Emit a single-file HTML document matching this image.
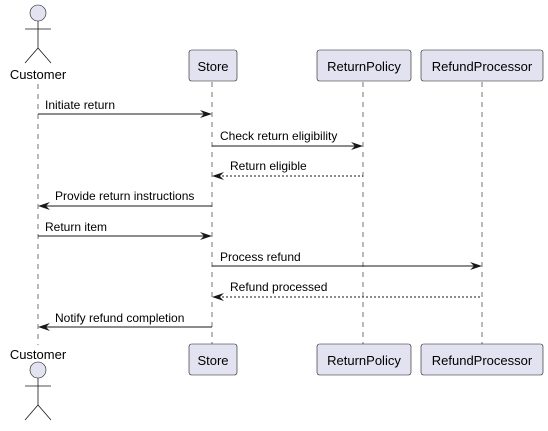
<!DOCTYPE html><html><head><style>body{margin:0;background:#fff}</style></head><body>
<svg width="548" height="426" xmlns="http://www.w3.org/2000/svg" font-family="Liberation Sans, sans-serif" font-size="13">
<g stroke="#181818" stroke-width="0.6" stroke-dasharray="5,5">
<line x1="38" y1="84" x2="38" y2="345"/><line x1="212" y1="82" x2="212" y2="344"/>
<line x1="363" y1="82" x2="363" y2="344"/><line x1="482" y1="82" x2="482" y2="344"/></g>
<g fill="#E2E2F0" stroke="#181818" stroke-width="0.6">
<rect x="189" y="50" width="48" height="31" rx="2.5"/><rect x="317" y="50" width="94" height="31" rx="2.5"/><rect x="421" y="50" width="122" height="31" rx="2.5"/>
<rect x="189" y="344" width="48" height="31" rx="2.5"/><rect x="317" y="344" width="94" height="31" rx="2.5"/><rect x="421" y="344" width="122" height="31" rx="2.5"/>
<circle cx="38" cy="13" r="8"/><circle cx="38" cy="370" r="8"/></g>
<g stroke="#181818" stroke-width="0.8" fill="none">
<path d="M38 21V48M25 29H51M25 63L38 48L51 63"/><path d="M38 378V405M25 386H51M25 420L38 405L51 420"/></g>
<g fill="#000" text-anchor="middle">
<text x="38" y="79">Customer</text><text x="38" y="359">Customer</text>
<text x="213" y="71">Store</text><text x="364" y="71">ReturnPolicy</text><text x="482" y="71">RefundProcessor</text>
<text x="213" y="365">Store</text><text x="364" y="365">ReturnPolicy</text><text x="482" y="365">RefundProcessor</text></g>
<g stroke="#181818" stroke-width="1" fill="none">
<line x1="38" y1="114" x2="210" y2="114"/><line x1="212" y1="146" x2="361" y2="146"/>
<line x1="214" y1="176" x2="363" y2="176" stroke-dasharray="2,2"/><line x1="40" y1="206" x2="212" y2="206"/>
<line x1="38" y1="236" x2="210" y2="236"/><line x1="212" y1="266" x2="480" y2="266"/>
<line x1="214" y1="297" x2="482" y2="297" stroke-dasharray="2,2"/><line x1="40" y1="327" x2="212" y2="327"/></g>
<g fill="#181818">
<path d="M212 114l-12-4 4 4-4 4z"/><path d="M363 146l-12-4 4 4-4 4z"/><path d="M482 266l-12-4 4 4-4 4z"/><path d="M212 236l-12-4 4 4-4 4z"/>
<path d="M212 176l12-4-4 4 4 4z"/><path d="M212 297l12-4-4 4 4 4z"/><path d="M38 206l12-4-4 4 4 4z"/><path d="M38 327l12-4-4 4 4 4z"/></g>
<g fill="#000" font-size="12">
<text x="45" y="109">Initiate return</text><text x="220" y="140">Check return eligibility</text>
<text x="230" y="170">Return eligible</text><text x="55" y="200">Provide return instructions</text>
<text x="45" y="231">Return item</text><text x="220" y="261">Process refund</text>
<text x="230" y="291">Refund processed</text><text x="55" y="322">Notify refund completion</text></g>
</svg></body></html>
